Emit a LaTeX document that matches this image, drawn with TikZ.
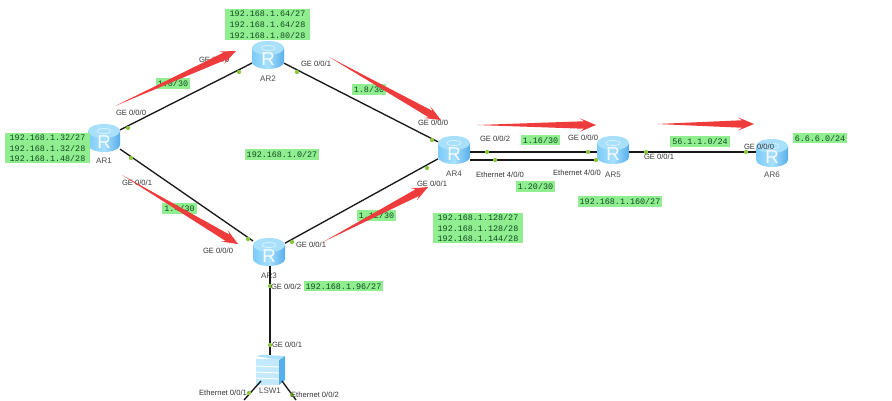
\documentclass[tikz,border=0pt]{standalone}
\usepackage{fontspec}
\setmainfont{Liberation Sans}
\setmonofont{Liberation Mono}
\usetikzlibrary{calc}
\definecolor{netgreen}{HTML}{90EE90}
\definecolor{netdot}{HTML}{8CC63F}
\definecolor{arrowred}{HTML}{EE3B3B}
\definecolor{bluelight}{HTML}{A8E0FC}
\definecolor{bluemid}{HTML}{7CCBF8}
\definecolor{bluedeep}{HTML}{56AEEB}
\definecolor{labelink}{HTML}{0F4A1F}
\tikzset{
  devicebox/.style={draw=none,inner sep=0pt,outer sep=0pt,minimum width=24pt,minimum height=21pt},
  netlabel/.style={fill=netgreen,text=labelink,inner xsep=3.2pt,inner ysep=1pt,font=\ttfamily\fontsize{6.3pt}{8pt}\selectfont,align=left,anchor=center},
  netshort/.style={netlabel,inner xsep=1.5pt,inner ysep=1.6pt},
  portlabel/.style={inner sep=0pt,text=black!80,font=\fontsize{5.7pt}{7pt}\selectfont},
  devname/.style={inner sep=0pt,text=black!70,font=\fontsize{6pt}{7pt}\selectfont},
  netlink/.style={draw=black!90,line width=1pt},
  portdot/.style={circle,fill=netdot,inner sep=0pt,minimum size=3.2pt},
  redflow/.style={fill=arrowred,draw=none}
}
% router: name, x, y, caption offset
\newcommand{\routerdev}[4]{%
  \node[devicebox] (#1) at (#2,#3) {};
  \begin{scope}[shift={(#2,#3)}]
    \path[left color=bluemid,right color=bluedeep,middle color=bluelight]
      (-16,-7) -- (-16,7) arc[x radius=16,y radius=7,start angle=180,end angle=0] -- (16,-7) -- cycle;
    \fill[bluelight] (0,-7) ellipse[x radius=16,y radius=7];
    \draw[white,opacity=.55,line width=.6pt] (0,-7) ellipse[x radius=7,y radius=2.5];
    \node[inner sep=0pt,text=white,opacity=.9,font=\fontsize{14pt}{14pt}\selectfont] at (0,4.5) {R};
  \end{scope}
  \node[devname] at (#2,#3+#4) {#1};
}
\newcommand{\portlab}[3]{\node[portlabel] at (#1,#2) {#3};}
% tapered arrow: tail, tip
\newcommand{\flowarrow}[2]{%
  \coordinate (t) at (#1);
  \coordinate (h) at (#2);
  \coordinate (b) at ($(h)!12pt!(t)$);
  \coordinate (c) at ($(h)!9pt!(t)$);
  \fill[redflow] (t) -- ($(c)!2.8pt!90:(h)$) -- ($(b)!5pt!90:(h)$) -- (h)
     -- ($(b)!5pt!-90:(h)$) -- ($(c)!2.8pt!-90:(h)$) -- cycle;
}
\begin{document}
\begin{tikzpicture}[x=0.75pt,y=-0.75pt]
\useasboundingbox[fill=white] (0,0) rectangle (892,400);

% devices
\routerdev{AR1}{104}{138}{23}
\routerdev{AR2}{268}{55}{24}
\routerdev{AR3}{269}{252}{24}
\routerdev{AR4}{454}{150}{24}
\routerdev{AR5}{613}{150}{25}
\routerdev{AR6}{772}{153}{22}

\node[devicebox,minimum width=21pt,minimum height=22pt] (LSW1) at (270,370) {};
\fill[bluedeep] (279,360) -- (285,356) -- (285,380) -- (279,385) -- cycle;
\fill[bluelight] (256,356) -- (262,355) -- (285,356) -- (279,360) -- cycle;
\fill[bluelight!70!white] (256,359) rectangle (279,385);
\draw[white,line width=.7pt] (256,366) -- (279,367) (256,372) -- (279,373) (256,378) -- (279,379);
\node[devname] at (270,391) {LSW1};

% links
\draw[netlink] (AR1) -- (AR2);
\draw[netlink] (AR1) -- (AR3);
\draw[netlink] (AR2) -- (AR4);
\draw[netlink] (AR3) -- (AR4);
\draw[netlink] ([yshift=-1.5pt]AR4.east) -- ([yshift=-1.5pt]AR5.west);
\draw[netlink] ([yshift=-7.5pt]AR4.east) -- ([yshift=-7.5pt]AR5.west);
\draw[netlink] ([yshift=-1.5pt]AR5.east) -- ([yshift=.75pt]AR6.west);
\draw[netlink] ([xshift=.75pt]AR3.south) -- (LSW1.north);
\coordinate (free1) at (244,400);
\coordinate (free2) at (296,400);
\coordinate (sw1) at (261,381);
\coordinate (sw2) at (282,381);
\draw[netlink] (sw1) -- (free1);
\draw[netlink] (sw2) -- (free2);

% port dots
\foreach \px/\py in {128/128,239/72,297/72,131/158,432/140,427/168,487/152,495/160,588/152,596/160,248/239,292/242,270/286,270/345,249/393,292/395,646/152,746/152}
  \node[portdot] at (\px,\py) {};

% subnet labels
\node[netlabel] at (267.5,24.5) {192.168.1.64/27\\192.168.1.64/28\\192.168.1.80/28};
\node[netlabel] at (47.5,148) {192.168.1.32/27\\192.168.1.32/28\\192.168.1.48/28};
\node[netlabel] at (478,228) {192.168.1.128/27\\192.168.1.128/28\\192.168.1.144/28};
\node[netshort] at (282,154.5) {192.168.1.0/27};
\node[netshort] at (173,83.5) {1.0/30};
\node[netshort] at (179.5,208.5) {1.4/30};
\node[netshort] at (369,89.5) {1.8/30};
\node[netshort] at (376.5,215.5) {1.12/30};
\node[netshort] at (540.5,140) {1.16/30};
\node[netshort] at (535.5,186.5) {1.20/30};
\node[netshort] at (620,201.5) {192.168.1.160/27};
\node[netshort] at (700,141.5) {56.1.1.0/24};
\node[netshort] at (820,138) {6.6.6.0/24};
\node[netshort] at (343.5,286) {192.168.1.96/27};

% port labels
\portlab{214}{60}{GE 0/0/0}
\portlab{316}{64}{GE 0/0/1}
\portlab{131}{113}{GE 0/0/0}
\portlab{137}{183}{GE 0/0/1}
\portlab{218}{251}{GE 0/0/0}
\portlab{311}{245}{GE 0/0/1}
\portlab{286}{287}{GE 0/0/2}
\portlab{287}{345}{GE 0/0/1}
\portlab{433}{123}{GE 0/0/0}
\portlab{432}{184}{GE 0/0/1}
\portlab{495}{139}{GE 0/0/2}
\portlab{500}{175}{Ethernet 4/0/0}
\portlab{583}{138}{GE 0/0/0}
\portlab{577}{173}{Ethernet 4/0/0}
\portlab{659}{157}{GE 0/0/1}
\portlab{759}{147}{GE 0/0/0}
\portlab{223}{393}{Ethernet 0/0/1}
\portlab{315}{395}{Ethernet 0/0/2}

% flow arrows
\flowarrow{115,106}{236,51}
\flowarrow{329,57}{441,120}
\flowarrow{122,175}{238,244}
\flowarrow{323,242}{428,187}
\flowarrow{477,125}{596,125}
\flowarrow{657,124}{754,124}
\end{tikzpicture}
\end{document}
